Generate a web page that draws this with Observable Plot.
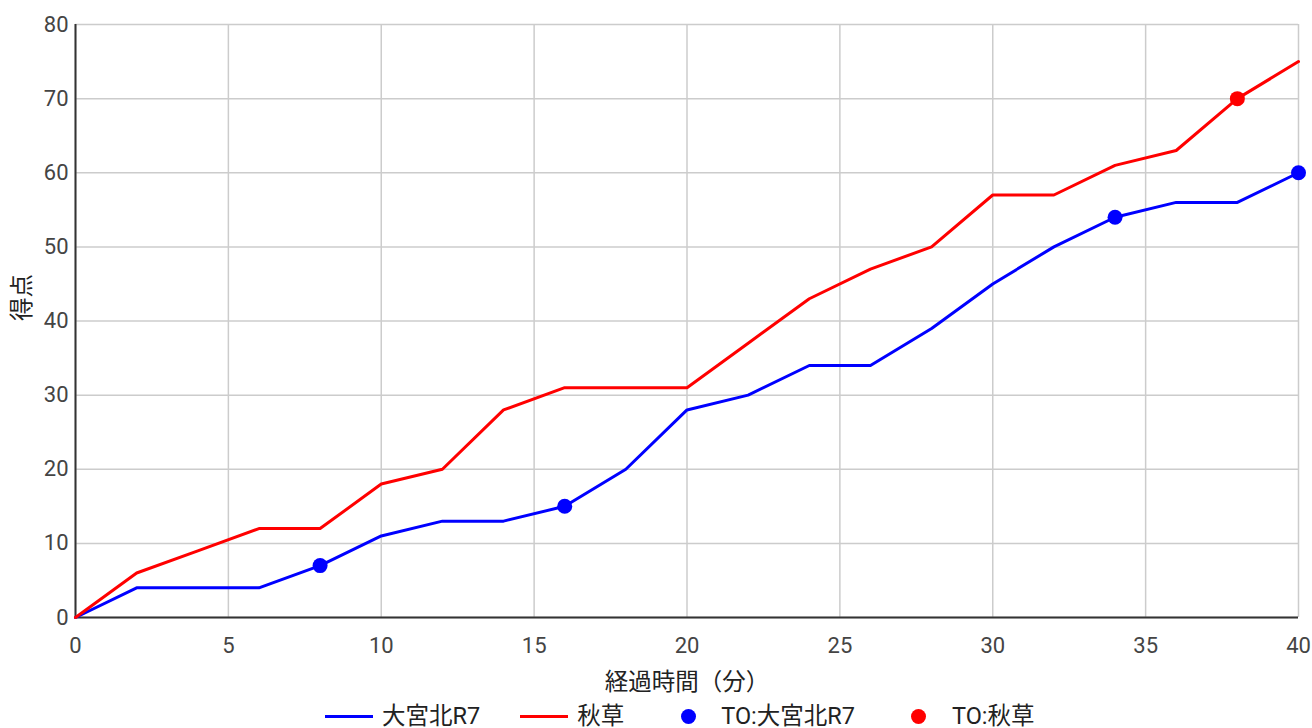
<!DOCTYPE html>
<html><head><meta charset="utf-8">
<script src="https://cdn.jsdelivr.net/npm/d3@7"></script>
<script src="https://cdn.jsdelivr.net/npm/@observablehq/plot@0.6"></script>
<style>
html,body{margin:0;padding:0;background:#fff;overflow:hidden;}
body{font-family:Roboto,"Noto Sans CJK JP",sans-serif;}
#legend{display:flex;align-items:center;height:26px;line-height:26px;padding-left:325px;font-size:23.5px;color:#222;white-space:nowrap;}
.item{display:flex;align-items:center;margin-right:40px;}
.sw{width:48px;height:26px;position:relative;margin-right:9px;}
.sw .ln{position:absolute;left:0;right:0;top:11.5px;height:3px;}
.sw .dt{position:absolute;left:16.5px;top:5.5px;width:15px;height:15px;border-radius:50%;}
</style></head><body>
<div id="chart"></div>
<div id="legend"></div>
<script>
const minutes = [0,2,4,6,8,10,12,14,16,18,20,22,24,26,28,30,32,34,36,38,40];
const omiyaKita = [0,4,4,4,7,11,13,13,15,20,28,30,34,34,39,45,50,54,56,56,60];
const akikusa   = [0,6,9,12,12,18,20,28,31,31,31,37,43,47,50,57,57,61,63,70,75];
const toOmiyaMinutes = [8,16,34,40];
const toOmiyaScores  = [7,15,54,60];
const toAkiMinutes = [38];
const toAkiScores  = [70];
const xTicks = [0,5,10,15,20,25,30,35,40];
const yTicks = [0,10,20,30,40,50,60,70,80];
const xTitle = "経過時間（分）";
const yTitle = "得点";
const seriesNames = ["大宮北R7","秋草","TO:大宮北R7","TO:秋草"];
const seriesColors = ["#0000ff","#ff0000","#0000ff","#ff0000"];

const lineData = [
  ...minutes.map((m,i)=>({t:m, s:omiyaKita[i], team:seriesNames[0]})),
  ...minutes.map((m,i)=>({t:m, s:akikusa[i], team:seriesNames[1]}))
];
const dotData = [
  ...toOmiyaMinutes.map((m,i)=>({t:m, s:toOmiyaScores[i], team:seriesNames[2]})),
  ...toAkiMinutes.map((m,i)=>({t:m, s:toAkiScores[i], team:seriesNames[3]}))
];

const font = 'Roboto,"Noto Sans CJK JP",sans-serif';
const chart = Plot.plot({
  width:1312, height:703,
  marginLeft:75, marginRight:14, marginTop:24, marginBottom:86,
  style:{fontSize:"22px", fontFamily:font, color:"#444", background:"#fff", overflow:"visible"},
  x:{domain:[0,40]},
  y:{domain:[0,80]},
  color:{domain:seriesNames, range:seriesColors},
  marks:[
    Plot.gridX(xTicks,{stroke:"#cccccc", strokeOpacity:1, strokeWidth:1.5}),
    Plot.gridY(yTicks,{stroke:"#cccccc", strokeOpacity:1, strokeWidth:1.5}),
    Plot.axisX(xTicks,{tickSize:0, tickPadding:20, label:null, fill:"#444"}),
    Plot.axisY(yTicks,{tickSize:0, tickPadding:7, label:null, fill:"#444"}),
    Plot.text([xTitle],{text:d=>d, frameAnchor:"bottom", dy:65, lineAnchor:"middle", fontSize:23.5, fill:"#222"}),
    Plot.text([yTitle],{text:d=>d, frameAnchor:"left", dx:-53, rotate:-90, lineAnchor:"middle", fontSize:23.5, fill:"#222"}),
    Plot.ruleX([0],{stroke:"#333", strokeWidth:2}),
    Plot.ruleY([0],{stroke:"#333", strokeWidth:2}),
    Plot.line(lineData,{x:"t", y:"s", z:"team", stroke:"team", strokeWidth:3}),
    Plot.dot(dotData,{x:"t", y:"s", fill:"team", r:7.5})
  ]
});
document.getElementById("chart").appendChild(chart);

const legend = document.getElementById("legend");
seriesNames.forEach((name,i)=>{
  const item = document.createElement("div"); item.className="item";
  const sw = document.createElement("div"); sw.className="sw";
  const mk = document.createElement("div");
  mk.className = i<2 ? "ln" : "dt";
  mk.style.background = seriesColors[i];
  sw.appendChild(mk);
  const tx = document.createElement("span"); tx.textContent = name;
  item.appendChild(sw); item.appendChild(tx);
  legend.appendChild(item);
});
</script>
</body></html>
